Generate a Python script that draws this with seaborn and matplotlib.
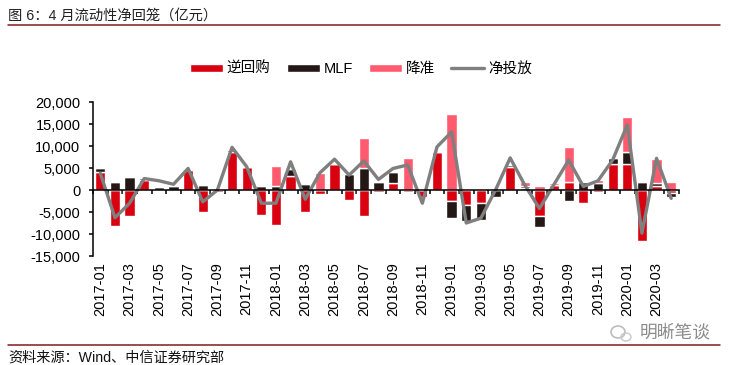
import numpy as np
import pandas as pd
import matplotlib
matplotlib.use('Agg')
import matplotlib.pyplot as plt
import seaborn as sns
from matplotlib.lines import Line2D
from matplotlib.patches import Ellipse
from matplotlib.ticker import FixedLocator, FuncFormatter

months = list(pd.period_range('2017-01', '2020-04', freq='M').astype(str))

# stacked in this order, positives and negatives stack separately (units: 100m yuan)
reverse_repo = [4000, -8100, -6000, 2300, 0, 0, 4500, -5100, -400, 8700,
                5200, -5600, -7900, 3200, -5100, -900, 5900, -2200, -5900, -500,
                1500, -500, -1500, 8600, -2400, -3500, -3000, 0, 5200, 400,
                -5900, 1100, 1800, -2900, -400, 5900, 5900, -11700, 800, -600]
mlf = [1000, 1800, 3000, 400, 700, 900, 300, 1100, 200, 300,
       100, 900, 900, 1500, 1300, 0, 0, 3600, 4900, 1800,
       2500, 0, 0, 0, -3900, -3500, -3800, -1700, 500, 500,
       -2600, 0, -2400, 1800, 1700, 1300, 2700, 1800, 700, -1100]
rrr = [0, 0, 0, 0, 0, 0, 0, 0, 0, 0,
       0, 0, 4600, 0, 0, 3800, 0, 0, 6900, 0,
       0, 7300, 0, 0, 17300, 0, 0, 0, 0, 1000,
       900, 400, 7900, 300, 600, 0, 7900, 0, 5500, 1800]
net = [3800, -6300, -3000, 2600, 2100, 1300, 4900, -2700, 0, 9700,
       5300, -3000, -3000, 6400, -2100, 3900, 7000, 3400, 6600, 2400,
       4900, 5700, -3000, 9800, 13200, -7500, -6400, 0, 7300, 1100,
       -4200, 1300, 6800, 800, 2100, 6800, 14800, -9800, 7200, -1900]

bar_series = [('逆回购', reverse_repo, '#D9000F'),
              ('MLF', mlf, '#231815'),
              ('降准', rrr, '#FF5A6E')]

W, H = 733, 365

sns.set_style('white')
plt.rcParams['font.family'] = ['Liberation Sans', 'Noto Sans CJK SC', 'DejaVu Sans']

fig = plt.figure(figsize=(W / 100, H / 100), dpi=100)
ax = fig.add_axes([93 / W, 1 - 256 / H, (678.5 - 93) / W, (256 - 102) / H])

pos = np.zeros(len(months))
neg = np.zeros(len(months))
for name, values, color in bar_series:
    values = np.array(values, dtype=float)
    bottom = np.where(values >= 0, pos, neg)
    sns.barplot(x=months, y=values, bottom=bottom, color=color, saturation=1,
                width=0.7, errorbar=None, label=name, ax=ax)
    pos += np.clip(values, 0, None)
    neg += np.clip(values, None, 0)

sns.lineplot(x=months, y=net, color='#7F7F7F', lw=2.4, sort=False, errorbar=None,
             label='净投放', ax=ax)

ax.set_xlim(-0.5, len(months) - 0.5)
ax.set_ylim(-15000, 20000)
ax.set_yticks(np.arange(-15000, 20001, 5000))
ax.yaxis.set_major_formatter(FuncFormatter(lambda v, p: f'{int(v):,}'))
ax.tick_params(axis='y', left=True, length=3, width=1.1, labelsize=10.5, pad=6,
               color='black', labelcolor='black')

ax.set_xticks(range(0, len(months), 2))
ax.set_xticklabels(months[::2])
ax.xaxis.set_minor_locator(FixedLocator(np.arange(-0.5, len(months), 1)))
ax.tick_params(axis='x', which='major', bottom=True, length=0, pad=52,
               labelsize=10.5, labelrotation=90, labelcolor='black')
ax.tick_params(axis='x', which='minor', bottom=True, length=3, width=1.1, color='black')

for s in ['top', 'right']:
    ax.spines[s].set_visible(False)
ax.spines['bottom'].set_position(('data', 0))
for s in ['left', 'bottom']:
    ax.spines[s].set_color('black')
    ax.spines[s].set_linewidth(1.1)

handles, labels = ax.get_legend_handles_labels()
order = [labels.index(n) for n in ['逆回购', 'MLF', '降准', '净投放']]
ax.legend([handles[i] for i in order], [labels[i] for i in order],
          loc='center', bbox_to_anchor=((361 - 93) / (678.5 - 93), 1 + (102 - 69) / (256 - 102)),
          ncol=4, frameon=False, fontsize=10.5, handlelength=2.26, handleheight=0.5,
          handletextpad=0.27, columnspacing=1.1, borderpad=0, borderaxespad=0,
          labelcolor='black')

# header / footer
fig.text(8 / W, 1 - 16 / H, '图 6：4 月流动性净回笼（亿元）', fontsize=10.3, va='center', color='#222222')
fig.text(8 / W, 1 - 358 / H, '资料来源：Wind、中信证券研究部', fontsize=10.2, va='center', color='#111111')
for y in [25, 345]:
    fig.add_artist(Line2D([8 / W, 720 / W], [1 - y / H, 1 - y / H], color='#7A1F1A', lw=1.1))

# watermark
fig.text(640 / W, 1 - 333 / H, '明晰笔谈', fontsize=12.8, va='center', color='#8C8C8C')
fig.add_artist(Ellipse((618 / W, 1 - 332 / H), 14 / W, 12 / H, fill=False, ec='#BDBDBD', lw=1.2))
fig.add_artist(Ellipse((626 / W, 1 - 337 / H), 10 / W, 8 / H, fill=False, ec='#C8C8C8', lw=1))

fig.savefig('out.png', dpi=100)
